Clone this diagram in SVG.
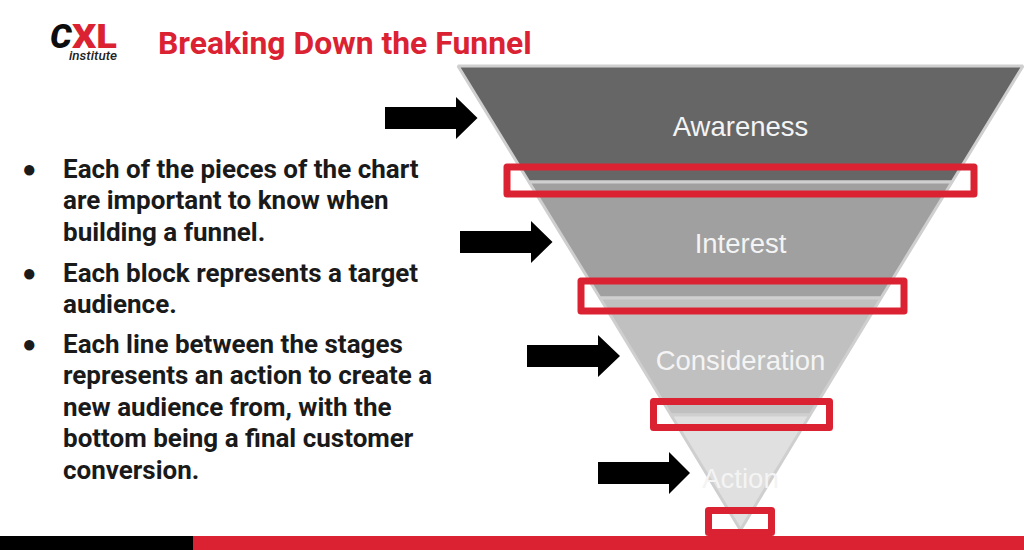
<svg xmlns="http://www.w3.org/2000/svg" width="1024" height="550" viewBox="0 0 1024 550">
<style>
.band{stroke:#cfcfcf;stroke-width:3;stroke-linejoin:bevel}
.lbl{font-family:"Liberation Sans",Arial,sans-serif;font-size:27.5px;fill:#f4f4f4;text-anchor:middle}
.box{fill:none;stroke:#db2232;stroke-width:7;stroke-linejoin:round}
.arrow{fill:#000}
.body{font-family:Roboto,"Liberation Sans",sans-serif;font-weight:700;font-size:26px;fill:#1a1a1a}
.bullet{font-family:"Liberation Sans",sans-serif;font-size:24px;fill:#1a1a1a}
</style>
<rect width="1024" height="550" fill="#fff"/>
<g id="logo">
<text x="50" y="47.500" font-family="Roboto,sans-serif" font-weight="900" font-style="italic" font-size="34" fill="#0d0d0d">C</text>
<text x="72" y="48" font-family="Roboto,sans-serif" font-weight="900" font-size="33" fill="#db2232" textLength="45" lengthAdjust="spacingAndGlyphs">XL</text>
<text x="69" y="60" font-family="Roboto,sans-serif" font-style="italic" font-weight="500" font-size="12" fill="#222" textLength="48" lengthAdjust="spacingAndGlyphs">institute</text>
</g>
<text id="title" x="158" y="54" font-family="Roboto,sans-serif" font-weight="700" font-size="31.9" fill="#db2232">Breaking Down the Funnel</text>
<g id="bullets">
<text class="bullet" x="22" y="177">●</text>
<text class="body" x="63" y="177.500">Each of the pieces of the chart</text>
<text class="body" x="63" y="209">are important to know when</text>
<text class="body" x="63" y="240.500">building a funnel.</text>
<text class="bullet" x="22" y="281">●</text>
<text class="body" x="63" y="281.500">Each block represents a target</text>
<text class="body" x="63" y="312.500">audience.</text>
<text class="bullet" x="22" y="352">●</text>
<text class="body" x="63" y="352.500">Each line between the stages</text>
<text class="body" x="63" y="384">represents an action to create a</text>
<text class="body" x="63" y="415.500">new audience from, with the</text>
<text class="body" x="63" y="447">bottom being a final customer</text>
<text class="body" x="63" y="478.500">conversion.</text>
</g>
<g id="funnel">
<g id="awareness"><polygon class="band" points="458,66 1023,66 952,182 529,182" fill="#666"/><text class="lbl" x="740.5" y="135.500">Awareness</text></g>
<g id="interest"><polygon class="band" points="529,182 952,182 881,298 600,298" fill="#a0a0a0"/><text class="lbl" x="740.5" y="252.500">Interest</text></g>
<g id="consideration"><polygon class="band" points="600,298 881,298 810,415 671,415" fill="#c0c0c0"/><text class="lbl" x="740.5" y="369.500">Consideration</text></g>
<g id="action"><polygon class="band" points="671,415 810,415 740.5,530" fill="#e0e0e0"/><text class="lbl" x="740.5" y="487.500">Action</text></g>
</g>
<g id="connectors">
<polygon class="arrow" points="385,107 456,107 456,97 477.5,118 456,139 456,129 385,129"/>
<polygon class="arrow" points="460,231 531,231 531,221 552.5,242 531,263 531,253 460,253"/>
<polygon class="arrow" points="527,345 598,345 598,335 620,356 598,377 598,367 527,367"/>
<polygon class="arrow" points="598,462 669,462 669,452 690,473 669,494 669,484 598,484"/>
</g>
<g id="highlights">
<rect class="box" x="507" y="167" width="467" height="27"/>
<rect class="box" x="581" y="281" width="323" height="30"/>
<rect class="box" x="653.500" y="401.500" width="176" height="26"/>
<rect class="box" x="708.500" y="510.500" width="63" height="22"/>
</g>
<g id="footer">
<rect x="0" y="536" width="193" height="14" fill="#000"/>
<rect x="193" y="536" width="831" height="14" fill="#db2232"/>
</g>
</svg>
